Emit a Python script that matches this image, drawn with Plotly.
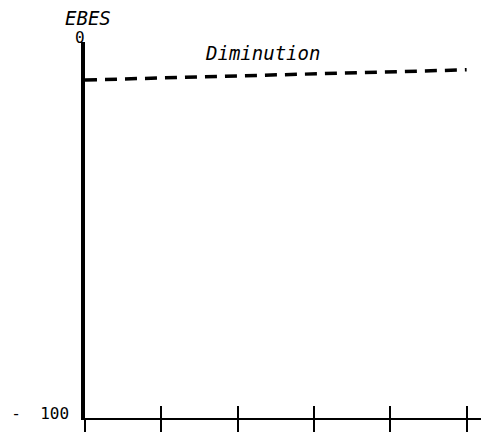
import plotly.graph_objects as go

# data
x_vals = [0, 5]
dimin_vals = [-10.1, -7.4]
x_ticks = [0, 1, 2, 3, 4, 5]
y_ticks = [-100]
y_ticktext = ["-\u00a0 100"]
top_label = "0"
series_label = "Diminution"
axis_title = "EBES"

FONT = "DejaVu Sans Mono"

fig = go.Figure()
fig.add_trace(go.Scatter(
    x=x_vals, y=dimin_vals, mode="lines",
    line=dict(color="black", width=3.5, dash="12px,8px"),
    showlegend=False, hoverinfo="skip", cliponaxis=False,
))
# invisible trace on overlay axis for inner ticks
fig.add_trace(go.Scatter(
    x=x_vals, y=dimin_vals, mode="lines", xaxis="x2",
    line=dict(color="rgba(0,0,0,0)", width=0),
    showlegend=False, hoverinfo="skip",
))

xr = [0, 5.28]
fig.update_layout(
    width=489, height=432,
    margin=dict(l=77, r=9, t=34, b=22, autoexpand=False),
    paper_bgcolor="white", plot_bgcolor="white",
    font=dict(family=FONT, color="black", size=14),
    xaxis=dict(range=xr, tickvals=x_ticks, showticklabels=False,
               ticks="outside", ticklen=12, tickwidth=1.6, tickcolor="black",
               showline=True, linecolor="black", linewidth=2,
               showgrid=False, zeroline=False, fixedrange=True,
               automargin=False),
    xaxis2=dict(range=xr, tickvals=x_ticks, showticklabels=False,
                overlaying="x", side="bottom", anchor="y",
                ticks="inside", ticklen=12, tickwidth=1.6, tickcolor="black",
                showline=False, showgrid=False, zeroline=False,
                automargin=False),
    yaxis=dict(range=[-100, 0], tickvals=y_ticks, ticktext=y_ticktext,
               ticks="", showline=True, linecolor="black", linewidth=3.5,
               showgrid=False, zeroline=False, ticklabelstandoff=9,
               ticklabelshift=-5, automargin=False,
               tickfont=dict(family=FONT, size=16)),
    annotations=[
        dict(text=axis_title, xref="paper", yref="paper", x=0, y=1.0,
             xanchor="left", yanchor="middle", xshift=-22, yshift=24,
             showarrow=False,
             font=dict(family=FONT, size=19, style="italic")),
        dict(text=top_label, xref="paper", yref="paper", x=0, y=1.0,
             xanchor="center", yanchor="middle", xshift=-5, yshift=5,
             showarrow=False,
             font=dict(family=FONT, size=16)),
        dict(text=series_label, x=2.32, y=-2.9, xanchor="center", yanchor="middle",
             showarrow=False, font=dict(family=FONT, size=19, style="italic")),
    ],
)

fig.write_html("out.html")
